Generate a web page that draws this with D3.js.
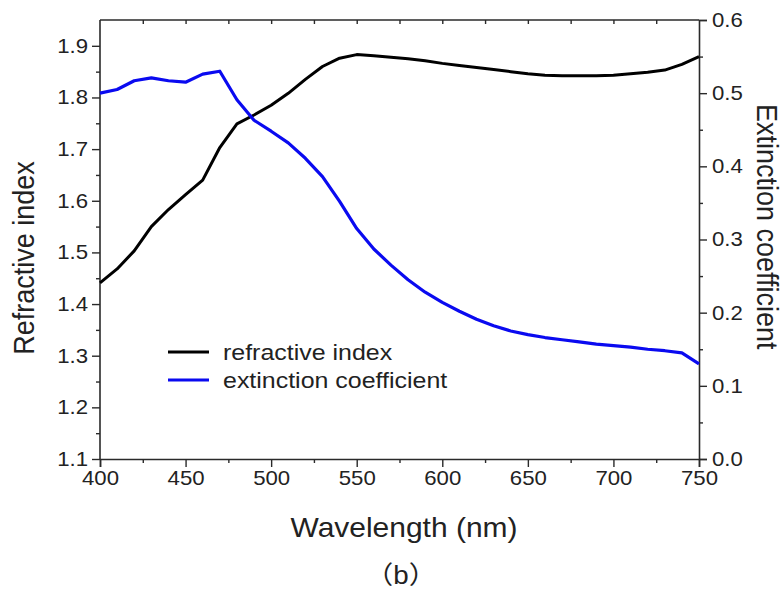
<!DOCTYPE html>
<html><head><meta charset="utf-8">
<script src="https://cdn.jsdelivr.net/npm/d3@7"></script>
<style>body{margin:0;background:#fff}</style>
</head><body>
<svg id="c" width="783" height="596"></svg>
<script>
const wavelengths = [400,410,420,430,440,450,460,470,480,490,500,510,520,530,540,550,560,570,580,590,600,610,620,630,640,650,660,670,680,690,700,710,720,730,740,750];
const refractiveIndex = [1.441,1.468,1.503,1.550,1.583,1.612,1.640,1.703,1.749,1.766,1.785,1.808,1.835,1.860,1.876,1.883,1.881,1.878,1.875,1.871,1.866,1.862,1.858,1.854,1.850,1.846,1.843,1.842,1.842,1.842,1.843,1.846,1.849,1.853,1.864,1.879];
const extinction = [0.500,0.505,0.517,0.521,0.517,0.515,0.526,0.530,0.491,0.463,0.448,0.432,0.411,0.386,0.352,0.315,0.287,0.265,0.245,0.228,0.214,0.202,0.191,0.182,0.175,0.170,0.166,0.163,0.160,0.157,0.155,0.153,0.150,0.148,0.145,0.130];
const xTicks = [400,450,500,550,600,650,700,750];
const leftTicks = [1.1,1.2,1.3,1.4,1.5,1.6,1.7,1.8,1.9];
const rightTicks = [0.0,0.1,0.2,0.3,0.4,0.5,0.6];
const seriesNames = ["refractive index","extinction coefficient"];
const seriesColors = ["#000000","#0a0af0"];

const SX = 1.11;
const L = 100, R = 699, T = 20, B = 459;
const svg = d3.select("#c");
const font = "'Liberation Sans', Arial, sans-serif";
const axisColor = "#2a2a2a";

const x = d3.scaleLinear().domain([400,750]).range([L,R]);
const yL = d3.scaleLinear().domain([1.1,1.95]).range([B,T]);
const yR = d3.scaleLinear().domain([0,0.6]).range([B,T]);

function stretch(sel){
  sel.each(function(){
    const t = d3.select(this);
    const tx = +t.attr("x")||0, ty = +t.attr("y")||0;
    const base = t.attr("data-rot") ? ` rotate(${t.attr("data-rot")})` : "";
    t.attr("x",0).attr("y",0).attr("transform",`translate(${tx},${ty}) scale(${SX},1)${base}`);
  });
}

const minorX = d3.range(425,750,50);
const minorL = d3.range(1.15,1.9,0.1);
const minorR = d3.range(0.05,0.6,0.1);

function styleAxis(g){
  g.select(".domain").attr("stroke",axisColor).attr("stroke-width",1.6);
  g.selectAll(".tick line").attr("stroke",axisColor).attr("stroke-width",1.4);
  g.selectAll("text").attr("font-family",font).attr("font-size",20).attr("fill","#222");
}

// bottom axis
const gB = svg.append("g").attr("transform",`translate(0,${B})`)
  .call(d3.axisBottom(x).tickValues(xTicks).tickFormat(d3.format("d")).tickSizeOuter(0).tickSize(8).tickPadding(4));
styleAxis(gB); stretch(gB.selectAll("text"));
svg.append("g").attr("transform",`translate(0,${B})`)
  .call(d3.axisBottom(x).tickValues(minorX).tickFormat("").tickSizeOuter(0).tickSize(4))
  .call(g=>{g.select(".domain").remove(); g.selectAll("line").attr("stroke",axisColor).attr("stroke-width",1.4);});

// top axis (inward ticks)
const gT = svg.append("g").attr("transform",`translate(0,${T})`)
  .call(d3.axisBottom(x).tickValues(d3.range(425,750,25)).tickFormat("").tickSizeOuter(0).tickSize(4));
gT.select(".domain").remove(); gT.selectAll("line").attr("stroke",axisColor).attr("stroke-width",1.4);
svg.append("line").attr("x1",L).attr("x2",R).attr("y1",T).attr("y2",T).attr("stroke",axisColor).attr("stroke-width",1.6);

// left axis
const gL = svg.append("g").attr("transform",`translate(${L},0)`)
  .call(d3.axisLeft(yL).tickValues(leftTicks).tickFormat(d3.format(".1f")).tickSizeOuter(0).tickSize(8).tickPadding(4));
styleAxis(gL);
gL.select(".domain").attr("d",`M0,${B}V${T}`);
stretch(gL.selectAll("text"));
svg.append("g").attr("transform",`translate(${L},0)`)
  .call(d3.axisLeft(yL).tickValues(minorL).tickFormat("").tickSizeOuter(0).tickSize(4))
  .call(g=>{g.select(".domain").remove(); g.selectAll("line").attr("stroke",axisColor).attr("stroke-width",1.4);});

// right axis
const gR = svg.append("g").attr("transform",`translate(${R},0)`)
  .call(d3.axisRight(yR).tickValues(rightTicks).tickFormat(d3.format(".1f")).tickSizeOuter(0).tickSize(8).tickPadding(5));
styleAxis(gR); stretch(gR.selectAll("text"));
svg.append("g").attr("transform",`translate(${R},0)`)
  .call(d3.axisRight(yR).tickValues(minorR).tickFormat("").tickSizeOuter(0).tickSize(4))
  .call(g=>{g.select(".domain").remove(); g.selectAll("line").attr("stroke",axisColor).attr("stroke-width",1.4);});

// lines
const lineL = d3.line().x((d,i)=>x(wavelengths[i])).y(d=>yL(d));
const lineR = d3.line().x((d,i)=>x(wavelengths[i])).y(d=>yR(d));
svg.append("path").attr("d",lineL(refractiveIndex)).attr("fill","none").attr("stroke",seriesColors[0]).attr("stroke-width",3).attr("stroke-linejoin","round");
svg.append("path").attr("d",lineR(extinction)).attr("fill","none").attr("stroke",seriesColors[1]).attr("stroke-width",3.2).attr("stroke-linejoin","round");

// legend
const lg = svg.append("g");
seriesNames.forEach((n,i)=>{
  const yy = 352 + i*28;
  lg.append("line").attr("x1",168).attr("x2",209).attr("y1",yy).attr("y2",yy).attr("stroke",seriesColors[i]).attr("stroke-width",3);
  lg.append("text").attr("x",223).attr("y",yy+8).attr("font-family",font).attr("font-size",22.5).attr("fill","#222").text(n);
});
stretch(lg.selectAll("text"));

// titles
svg.append("text").attr("x",404).attr("y",537).attr("text-anchor","middle").attr("font-family",font).attr("font-size",27).attr("fill","#222").text("Wavelength (nm)");
svg.append("text").attr("x",34).attr("y",258).attr("data-rot",-90).attr("text-anchor","middle").attr("font-family",font).attr("font-size",27).attr("fill","#222").text("Refractive index");
svg.append("text").attr("x",757).attr("y",104).attr("data-rot",90).attr("text-anchor","start").attr("font-family",font).attr("font-size",27).attr("fill","#222").text("Extinction coefficient");
svg.append("text").attr("x",401).attr("y",584).attr("text-anchor","middle").attr("font-family","'Liberation Sans','Noto Sans CJK SC',sans-serif").attr("font-size",25).attr("fill","#222").text("（b）");
stretch(svg.selectAll(":scope > text"));
</script>
</body></html>
